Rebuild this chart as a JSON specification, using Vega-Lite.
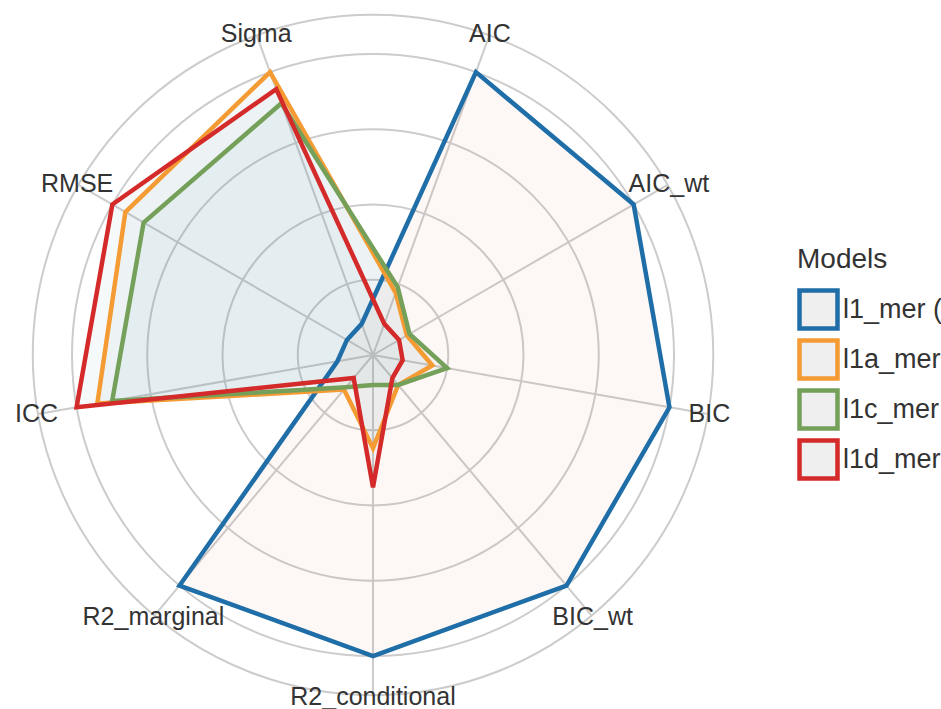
{
  "$schema": "https://vega.github.io/schema/vega-lite/v6.json",
  "width": 941,
  "height": 709,
  "padding": 0,
  "autosize": {"type": "none"},
  "background": "white",
  "config": {"view": {"stroke": null}, "font": "Liberation Sans"},
  "datasets": {
    "scores": [
      {"model": "l1_mer (lmerMod)", "metric": "AIC", "value": 1.0},
      {"model": "l1_mer (lmerMod)", "metric": "AIC_wt", "value": 1.0},
      {"model": "l1_mer (lmerMod)", "metric": "BIC", "value": 1.0},
      {"model": "l1_mer (lmerMod)", "metric": "BIC_wt", "value": 1.0},
      {"model": "l1_mer (lmerMod)", "metric": "R2_conditional", "value": 1.0},
      {"model": "l1_mer (lmerMod)", "metric": "R2_marginal", "value": 1.0},
      {"model": "l1_mer (lmerMod)", "metric": "ICC", "value": 0.12},
      {"model": "l1_mer (lmerMod)", "metric": "RMSE", "value": 0.1},
      {"model": "l1_mer (lmerMod)", "metric": "Sigma", "value": 0.11},
      {"model": "l1a_mer (lmerMod)", "metric": "AIC", "value": 0.22},
      {"model": "l1a_mer (lmerMod)", "metric": "AIC_wt", "value": 0.13},
      {"model": "l1a_mer (lmerMod)", "metric": "BIC", "value": 0.2},
      {"model": "l1a_mer (lmerMod)", "metric": "BIC_wt", "value": 0.13},
      {"model": "l1a_mer (lmerMod)", "metric": "R2_conditional", "value": 0.31},
      {"model": "l1a_mer (lmerMod)", "metric": "R2_marginal", "value": 0.15},
      {"model": "l1a_mer (lmerMod)", "metric": "ICC", "value": 0.93},
      {"model": "l1a_mer (lmerMod)", "metric": "RMSE", "value": 0.95},
      {"model": "l1a_mer (lmerMod)", "metric": "Sigma", "value": 1.0},
      {"model": "l1c_mer (lmerMod)", "metric": "AIC", "value": 0.24},
      {"model": "l1c_mer (lmerMod)", "metric": "AIC_wt", "value": 0.14},
      {"model": "l1c_mer (lmerMod)", "metric": "BIC", "value": 0.25},
      {"model": "l1c_mer (lmerMod)", "metric": "BIC_wt", "value": 0.13},
      {"model": "l1c_mer (lmerMod)", "metric": "R2_conditional", "value": 0.1},
      {"model": "l1c_mer (lmerMod)", "metric": "R2_marginal", "value": 0.14},
      {"model": "l1c_mer (lmerMod)", "metric": "ICC", "value": 0.88},
      {"model": "l1c_mer (lmerMod)", "metric": "RMSE", "value": 0.88},
      {"model": "l1c_mer (lmerMod)", "metric": "Sigma", "value": 0.89},
      {"model": "l1d_mer (lmerMod)", "metric": "AIC", "value": 0.11},
      {"model": "l1d_mer (lmerMod)", "metric": "AIC_wt", "value": 0.1},
      {"model": "l1d_mer (lmerMod)", "metric": "BIC", "value": 0.1},
      {"model": "l1d_mer (lmerMod)", "metric": "BIC_wt", "value": 0.1},
      {"model": "l1d_mer (lmerMod)", "metric": "R2_conditional", "value": 0.44},
      {"model": "l1d_mer (lmerMod)", "metric": "R2_marginal", "value": 0.1},
      {"model": "l1d_mer (lmerMod)", "metric": "ICC", "value": 1.0},
      {"model": "l1d_mer (lmerMod)", "metric": "RMSE", "value": 1.0},
      {"model": "l1d_mer (lmerMod)", "metric": "Sigma", "value": 0.94}
    ],
    "axes": [
      {"metric": "AIC"}, {"metric": "AIC_wt"}, {"metric": "BIC"}, {"metric": "BIC_wt"},
      {"metric": "R2_conditional"}, {"metric": "R2_marginal"}, {"metric": "ICC"},
      {"metric": "RMSE"}, {"metric": "Sigma"}
    ],
    "rings": [
      {"level": 0.25}, {"level": 0.5}, {"level": 0.75}, {"level": 1.0}, {"level": 1.13}
    ]
  },
  "layer": [
    {
      "data": {"name": "rings"},
      "transform": [{"calculate": "0", "as": "o"}],
      "mark": {"type": "arc", "theta": 6.2832, "filled": false, "stroke": "#cccccc", "strokeWidth": 2},
      "encoding": {
        "x": {"field": "o", "type": "quantitative", "scale": {"domain": [-1.2392, 1.887], "nice": false, "zero": false}, "axis": null},
        "y": {"field": "o", "type": "quantitative", "scale": {"domain": [-1.1761, 1.1794], "nice": false, "zero": false}, "axis": null},
        "radius": {"field": "level", "type": "quantitative", "stack": null, "scale": {"type": "linear", "domain": [0, 1], "range": [0, 301], "zero": true, "nice": false}}
      }
    },
    {
      "data": {"name": "axes"},
      "transform": [
        {"calculate": "indexof(['AIC','AIC_wt','BIC','BIC_wt','R2_conditional','R2_marginal','ICC','RMSE','Sigma'], datum.metric)", "as": "idx"},
        {"calculate": "PI/9 + datum.idx*2*PI/9", "as": "ang"},
        {"calculate": "0", "as": "o"},
        {"calculate": "1.13*sin(datum.ang)", "as": "sx"},
        {"calculate": "1.13*cos(datum.ang)", "as": "sy"}
      ],
      "mark": {"type": "rule", "stroke": "#cccccc", "strokeWidth": 2},
      "encoding": {
        "x": {"field": "o", "type": "quantitative", "scale": {"domain": [-1.2392, 1.887], "nice": false, "zero": false}, "axis": null},
        "y": {"field": "o", "type": "quantitative", "scale": {"domain": [-1.1761, 1.1794], "nice": false, "zero": false}, "axis": null},
        "x2": {"field": "sx"},
        "y2": {"field": "sy"}
      }
    },
    {
      "data": {"name": "scores"},
      "transform": [
        {"calculate": "indexof(['AIC','AIC_wt','BIC','BIC_wt','R2_conditional','R2_marginal','ICC','RMSE','Sigma'], datum.metric)", "as": "idx"},
        {"calculate": "PI/9 + datum.idx*2*PI/9", "as": "ang"},
        {"calculate": "datum.value*sin(datum.ang)", "as": "px"},
        {"calculate": "datum.value*cos(datum.ang)", "as": "py"}
      ],
      "mark": {"type": "line", "interpolate": "linear-closed", "strokeWidth": 0, "strokeOpacity": 0, "fillOpacity": 0.05},
      "encoding": {
        "x": {"field": "px", "type": "quantitative", "scale": {"domain": [-1.2392, 1.887], "nice": false, "zero": false}, "axis": null},
        "y": {"field": "py", "type": "quantitative", "scale": {"domain": [-1.1761, 1.1794], "nice": false, "zero": false}, "axis": null},
        "order": {"field": "idx", "type": "quantitative"},
        "detail": {"field": "model", "type": "nominal"},
        "fill": {
          "field": "model", "type": "nominal",
          "scale": {"range": ["#d77337", "#50819a", "#50819a", "#50819a"]},
          "legend": null
        }
      }
    },
    {
      "data": {"name": "scores"},
      "transform": [
        {"calculate": "indexof(['AIC','AIC_wt','BIC','BIC_wt','R2_conditional','R2_marginal','ICC','RMSE','Sigma'], datum.metric)", "as": "idx"},
        {"calculate": "PI/9 + datum.idx*2*PI/9", "as": "ang"},
        {"calculate": "datum.value*sin(datum.ang)", "as": "px"},
        {"calculate": "datum.value*cos(datum.ang)", "as": "py"}
      ],
      "mark": {"type": "line", "interpolate": "linear-closed", "strokeWidth": 4.5, "strokeJoin": "miter"},
      "encoding": {
        "x": {"field": "px", "type": "quantitative", "scale": {"domain": [-1.2392, 1.887], "nice": false, "zero": false}, "axis": null},
        "y": {"field": "py", "type": "quantitative", "scale": {"domain": [-1.1761, 1.1794], "nice": false, "zero": false}, "axis": null},
        "order": {"field": "idx", "type": "quantitative"},
        "stroke": {
          "field": "model", "type": "nominal",
          "scale": {"domain": ["l1_mer (lmerMod)", "l1a_mer (lmerMod)", "l1c_mer (lmerMod)", "l1d_mer (lmerMod)"], "range": ["#1f6ea8", "#f59b33", "#74a05a", "#d42a2a"]},
          "legend": {
            "title": "Models", "orient": "none", "legendX": 797, "legendY": 246,
            "titleFontSize": 28, "titleFontWeight": "normal", "titleColor": "#333333", "titlePadding": 14,
            "labelFontSize": 27, "labelColor": "#333333", "labelLimit": 500, "labelOffset": 3,
            "symbolType": "square", "symbolSize": 1444, "symbolStrokeWidth": 4.5, "symbolFillColor": "#efefef",
            "rowPadding": -12,
            "encode": {"symbols": {"update": {"fill": {"value": "#efefef"}, "fillOpacity": {"value": 1}, "strokeWidth": {"value": 4.5}}}}
          }
        }
      }
    },
    {
      "data": {"name": "axes"},
      "transform": [
        {"calculate": "indexof(['AIC','AIC_wt','BIC','BIC_wt','R2_conditional','R2_marginal','ICC','RMSE','Sigma'], datum.metric)", "as": "idx"},
        {"calculate": "PI/9 + datum.idx*2*PI/9", "as": "ang"},
        {"calculate": "1.135*sin(datum.ang)", "as": "tx"},
        {"calculate": "1.135*cos(datum.ang)", "as": "ty"}
      ],
      "mark": {"type": "text", "fontSize": 25, "color": "#333333", "align": "center", "baseline": "middle"},
      "encoding": {
        "x": {"field": "tx", "type": "quantitative", "scale": {"domain": [-1.2392, 1.887], "nice": false, "zero": false}, "axis": null},
        "y": {"field": "ty", "type": "quantitative", "scale": {"domain": [-1.1761, 1.1794], "nice": false, "zero": false}, "axis": null},
        "text": {"field": "metric"}
      }
    }
  ]
}
